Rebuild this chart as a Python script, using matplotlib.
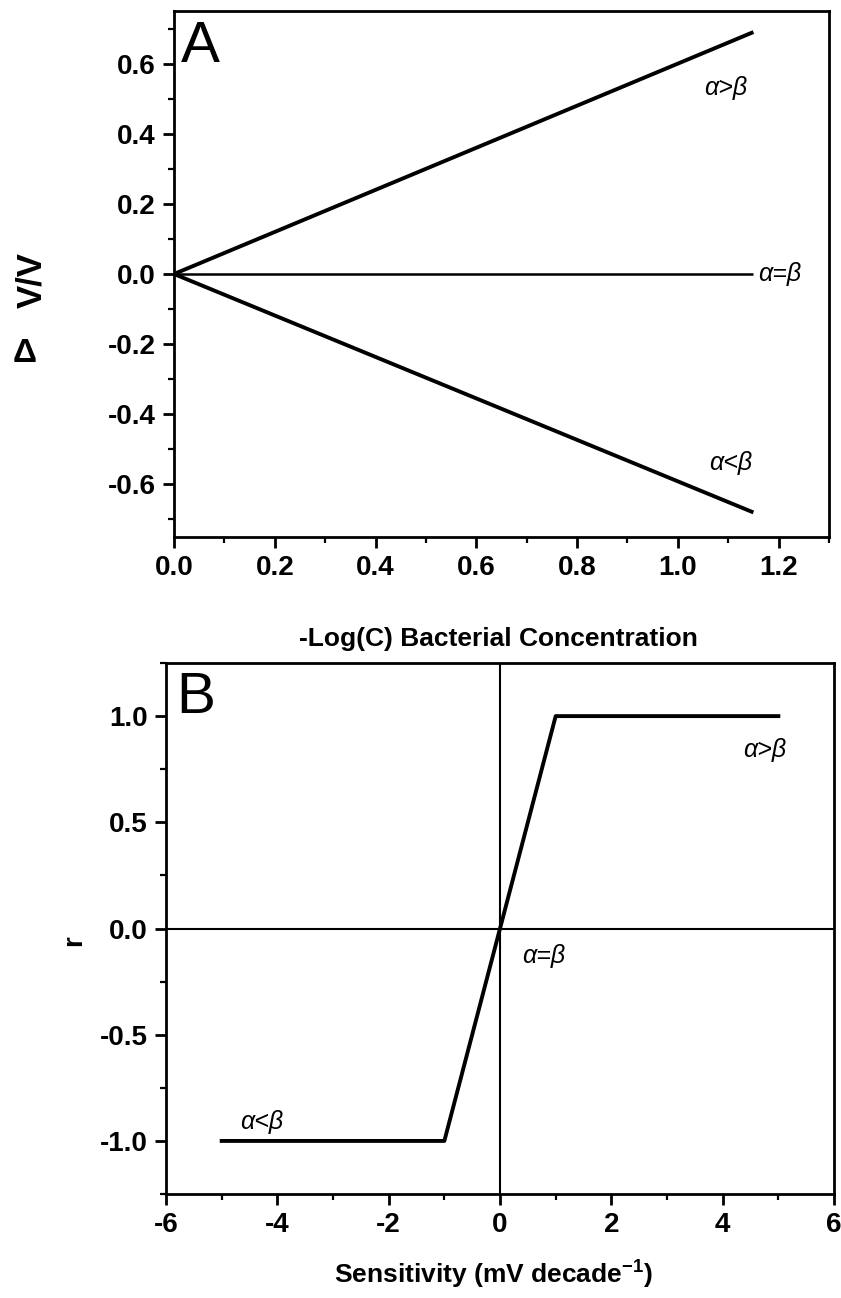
import numpy as np
import matplotlib
matplotlib.use("Agg")
import matplotlib.pyplot as plt
from matplotlib.ticker import MultipleLocator

plt.rcParams['font.family'] = ['Liberation Sans', 'DejaVu Sans']
plt.rcParams['mathtext.fontset'] = 'custom'
plt.rcParams['mathtext.rm'] = 'Liberation Sans'
plt.rcParams['mathtext.bf'] = 'Liberation Sans:bold'

# panel A: dV/V vs -log(C)
conc = [0.0, 1.15]
dv_greater = [0.0, 0.69]
dv_equal = [0.0, 0.0]
dv_less = [0.0, -0.68]

# panel B: r vs sensitivity
sens = [-5, -1, 1, 5]
r_vals = [-1, -1, 1, 1]

fig = plt.figure(figsize=(8.41, 12.98), dpi=100)


def style_axes(ax):
    for s in ax.spines.values():
        s.set_linewidth(2.0)
    ax.tick_params(which='major', direction='out', length=8, width=2.0,
                   labelsize=20, pad=5, top=False, right=False)
    ax.tick_params(which='minor', direction='out', length=4, width=1.6,
                   top=False, right=False)
    for lab in ax.get_xticklabels() + ax.get_yticklabels():
        lab.set_fontweight('bold')


# ---- A
ax1 = fig.add_axes([0.2069, 0.5863, 0.7788, 0.4052])
ax1.plot(conc, dv_greater, color='black', lw=2.8, solid_capstyle='butt')
ax1.plot(conc, dv_equal, color='black', lw=1.8, solid_capstyle='butt')
ax1.plot(conc, dv_less, color='black', lw=2.8, solid_capstyle='butt')
ax1.set_xlim(0, 1.3)
ax1.set_ylim(-0.75, 0.75)
ax1.xaxis.set_minor_locator(MultipleLocator(0.1))
ax1.yaxis.set_minor_locator(MultipleLocator(0.1))
ax1.set_xticks([0.0, 0.2, 0.4, 0.6, 0.8, 1.0, 1.2])
ax1.set_xticklabels(['0.0', '0.2', '0.4', '0.6', '0.8', '1.0', '1.2'])
ax1.set_yticks([-0.6, -0.4, -0.2, 0.0, 0.2, 0.4, 0.6])
ax1.set_yticklabels(['-0.6', '-0.4', '-0.2', '0.0', '0.2', '0.4', '0.6'])
style_axes(ax1)
ax1.set_xlabel('-Log(C) Bacterial Concentration', fontsize=19,
               fontweight='bold', va='top')
ax1.xaxis.set_label_coords(0.495, -0.172)
# y label: upright delta plus rotated V/V
fig.text(32 / 841, 1 - 280 / 1298, 'V/V', fontsize=25, fontweight='bold',
         rotation=90, ha='center', va='center')
fig.text(25 / 841, 1 - 354 / 1298, 'Δ', fontsize=24, fontweight='bold',
         ha='center', va='center')
ax1.text(0.01, 0.903, 'A', transform=ax1.transAxes, fontsize=42,
         va='baseline', ha='left')
ax1.text(1.053, 0.53, 'α>β', fontsize=18, style='italic', va='center')
ax1.text(1.16, 0.0, 'α=β', fontsize=18, style='italic', va='center')
ax1.text(1.063, -0.54, 'α<β', fontsize=18, style='italic', va='center')

# ---- B
ax2 = fig.add_axes([0.1974, 0.0801, 0.7943, 0.4091])
ax2.axhline(0, color='black', lw=1.5)
ax2.axvline(0, color='black', lw=1.5)
ax2.plot(sens, r_vals, color='black', lw=2.8)
ax2.set_xlim(-6, 6)
ax2.set_ylim(-1.25, 1.25)
ax2.xaxis.set_minor_locator(MultipleLocator(1))
ax2.yaxis.set_minor_locator(MultipleLocator(0.25))
ax2.set_xticks([-6, -4, -2, 0, 2, 4, 6])
ax2.set_xticklabels(['-6', '-4', '-2', '0', '2', '4', '6'])
ax2.set_yticks([-1.0, -0.5, 0.0, 0.5, 1.0])
ax2.set_yticklabels(['-1.0', '-0.5', '0.0', '0.5', '1.0'])
style_axes(ax2)
ax2.set_xlabel('Sensitivity (mV decade$^{\\mathbf{-1}}$)', fontsize=19,
               fontweight='bold', va='top')
ax2.xaxis.set_label_coords(0.49, -0.118)
fig.text(74 / 841, 1 - 941 / 1298, 'r', fontsize=20, fontweight='bold',
         rotation=90, ha='center', va='center')
ax2.text(0.016, 0.906, 'B', transform=ax2.transAxes, fontsize=42,
         va='baseline', ha='left')
ax2.text(4.37, 0.84, 'α>β', fontsize=18, style='italic', va='center')
ax2.text(0.4, -0.13, 'α=β', fontsize=18, style='italic', va='center')
ax2.text(-4.67, -0.91, 'α<β', fontsize=18, style='italic', va='center')

fig.savefig('out.png', dpi=100)
